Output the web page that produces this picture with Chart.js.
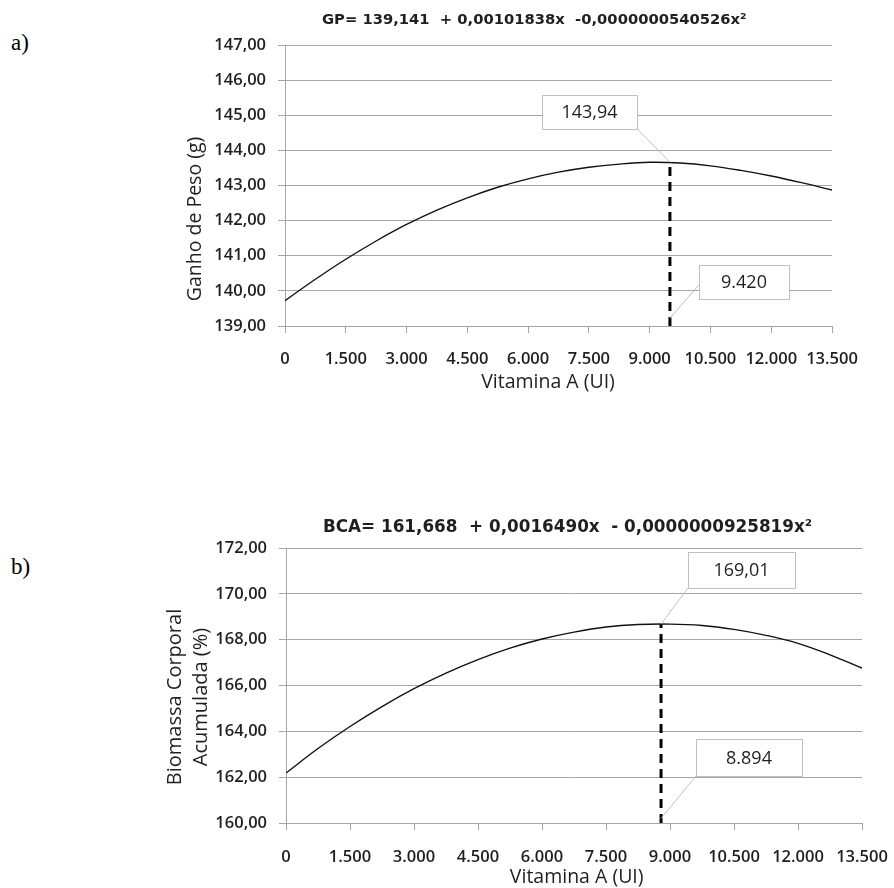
<!DOCTYPE html>
<html>
<head>
<meta charset="utf-8">
<script src="https://cdn.jsdelivr.net/npm/chart.js@4.4.1/dist/chart.umd.min.js"></script>
<style>
  html,body{margin:0;padding:0;background:#fff;}
  body{width:894px;height:888px;position:relative;overflow:hidden;}
  canvas{position:absolute;}
  #ca{left:150px;top:0px;}
  #cb{left:150px;top:500px;}
  .lbl{position:absolute;left:11px;font-family:'Liberation Serif','Times New Roman',serif;font-size:23px;color:#000;line-height:1;}
</style>
</head>
<body>
<div class="lbl" style="top:31px;">a)</div>
<div class="lbl" style="top:555px;">b)</div>
<canvas id="ca" width="744" height="400"></canvas>
<canvas id="cb" width="744" height="388"></canvas>
<script>
// ---------- data ----------
const xValues = [0, 750, 1500, 2250, 3000, 3750, 4500, 5250, 6000, 6750, 7500, 8250, 9000, 9750, 10500, 11250, 12000, 12750, 13500];
const xTickLabels = ['0', '1.500', '3.000', '4.500', '6.000', '7.500', '9.000', '10.500', '12.000', '13.500'];

// Chart a) Ganho de Peso
const gpValues = [139.72, 140.33, 140.90, 141.42, 141.89, 142.30, 142.65, 142.95, 143.19, 143.38, 143.52, 143.61, 143.66, 143.64, 143.56, 143.43, 143.27, 143.08, 142.87];
const gpYTickLabels = ['139,00', '140,00', '141,00', '142,00', '143,00', '144,00', '145,00', '146,00', '147,00'];
const gpOptimumX = 9500;
const gpOptimumY = 143.66;
const gpOptimumLabel = '143,94';
const gpDoseLabel = '9.420';
const gpTitle = 'GP= 139,141  + 0,00101838x  -0,0000000540526x\u00B2';

// Chart b) Biomassa Corporal Acumulada
const bcaValues = [162.18, 163.25, 164.21, 165.08, 165.86, 166.54, 167.13, 167.63, 168.03, 168.33, 168.55, 168.66, 168.68, 168.62, 168.45, 168.19, 167.84, 167.34, 166.76];
const bcaYTickLabels = ['160,00', '162,00', '164,00', '166,00', '168,00', '170,00', '172,00'];
const bcaOptimumX = 8790;
const bcaOptimumY = 168.68;
const bcaOptimumLabel = '169,01';
const bcaDoseLabel = '8.894';
const bcaTitle = 'BCA= 161,668  + 0,0016490x  - 0,0000000925819x\u00B2';

// ---------- styles ----------
const GRID = '#a6a6a6';
const TXT = '#1f1f1f';
const TICKFONT = {family: "'Open Sans', sans-serif", size: 16.5, weight: '600'};

const annoPlugin = {
  id: 'anno',
  afterDatasetsDraw(chart, args, opts) {
    const {ctx, scales: {x, y}} = chart;
    ctx.save();
    (opts.callouts || []).forEach(c => {
      const cx = x.getPixelForValue(c.boxX), cy = y.getPixelForValue(c.boxY);
      const bx = Math.round(cx - c.w / 2), by = Math.round(cy - c.h / 2);
      const sx = bx + c.fx * c.w, sy = by + c.fy * c.h;
      const ax = x.getPixelForValue(c.anchorX), ay = y.getPixelForValue(c.anchorY);
      ctx.strokeStyle = '#c0c0c0';
      ctx.lineWidth = 1;
      ctx.beginPath(); ctx.moveTo(sx, sy); ctx.lineTo(ax, ay); ctx.stroke();
      ctx.fillStyle = '#fff';
      ctx.fillRect(bx, by, c.w, c.h);
      ctx.strokeRect(bx + 0.5, by + 0.5, c.w, c.h);
      ctx.fillStyle = TXT;
      ctx.font = "18px 'Open Sans', sans-serif";
      ctx.textAlign = 'center';
      ctx.textBaseline = 'middle';
      ctx.fillText(c.text, bx + c.w / 2, by + c.h / 2 + 1);
    });
    ctx.restore();
  },
  afterDraw(chart, args, opts) {
    const {ctx, chartArea: ca} = chart;
    ctx.save();
    (opts.texts || []).forEach(t => {
      ctx.font = t.font;
      ctx.fillStyle = TXT;
      ctx.textAlign = t.align || 'center';
      ctx.textBaseline = 'middle';
      const px = ca.left + t.dx;
      const py = (t.refY === 'bottom' ? ca.bottom : ca.top) + t.dy;
      ctx.save();
      ctx.translate(px, py);
      if (t.rot) ctx.rotate(t.rot);
      ctx.fillText(t.text, 0, 0);
      ctx.restore();
    });
    ctx.restore();
  }
};

function makeChart(id, cfg) {
  return new Chart(document.getElementById(id), {
    type: 'line',
    data: {
      datasets: [
        {
          data: xValues.map((v, i) => ({x: v, y: cfg.ys[i]})),
          borderColor: '#111',
          borderWidth: 1.4,
          pointRadius: 0,
          tension: 0.4,
          fill: false
        },
        {
          data: [{x: cfg.optX, y: cfg.yMin}, {x: cfg.optX, y: cfg.optY}],
          borderColor: '#000',
          borderWidth: 3,
          borderDash: [9, 6],
          pointRadius: 0,
          tension: 0,
          fill: false
        }
      ]
    },
    options: {
      responsive: false,
      animation: false,
      devicePixelRatio: 1,
      layout: {padding: {top: cfg.padTop, right: cfg.padRight, left: 0, bottom: 0}},
      plugins: {
        legend: {display: false},
        tooltip: {enabled: false},
        anno: {callouts: cfg.callouts, texts: cfg.texts}
      },
      scales: {
        x: {
          type: 'linear',
          min: 0, max: 13500,
          afterFit: s => { s.height = cfg.xAxisH; s.paddingLeft = 0; s.paddingRight = 0; },
          afterBuildTicks: s => { s.ticks = xTickLabels.map((l, i) => ({value: i * 1500})); },
          ticks: {
            autoSkip: false, maxRotation: 0, padding: cfg.xPad,
            color: TXT, font: TICKFONT,
            callback: (v, i) => xTickLabels[i]
          },
          grid: {drawOnChartArea: false, drawTicks: true, tickLength: 7, color: GRID},
          border: {display: true, color: GRID, width: 1}
        },
        y: {
          type: 'linear',
          min: cfg.yMin, max: cfg.yMax,
          afterFit: s => { s.width = cfg.yAxisW; s.paddingTop = 0; s.paddingBottom = 0; },
          afterBuildTicks: s => { s.ticks = cfg.yLabels.map((l, i) => ({value: cfg.yMin + i * cfg.yStep})); },
          ticks: {
            padding: 12, color: TXT, font: TICKFONT,
            callback: (v, i) => cfg.yLabels[i]
          },
          grid: {color: GRID, tickLength: 7, drawTicks: true},
          border: {display: true, color: GRID, width: 1}
        }
      }
    },
    plugins: [annoPlugin]
  });
}

const axisFontA = "19.5px 'Open Sans', sans-serif";
const axisFontB = "20px 'Open Sans', sans-serif";

makeChart('ca', {
  ys: gpValues,
  yMin: 139, yMax: 147, yStep: 1, yLabels: gpYTickLabels,
  optX: gpOptimumX, optY: gpOptimumY,
  padTop: 45, padRight: 62, xAxisH: 74, yAxisW: 135, xPad: 16,
  callouts: [
    {text: gpOptimumLabel, boxX: 7515, boxY: 145.09, w: 95, h: 34, fx: 0.98, fy: 0.93, anchorX: gpOptimumX, anchorY: gpOptimumY},
    {text: gpDoseLabel, boxX: 11333, boxY: 140.25, w: 90, h: 34, fx: 0, fy: 0.58, anchorX: gpOptimumX, anchorY: 139.22}
  ],
  texts: [
    {text: gpTitle, font: "bold 14.75px 'DejaVu Sans', sans-serif", align: 'left', dx: 37, dy: -25},
    {text: 'Ganho de Peso (g)', font: axisFontA, dx: -90, dy: 174, rot: -Math.PI / 2},
    {text: 'Vitamina A (UI)', font: axisFontA, dx: 263, refY: 'bottom', dy: 56}
  ]
});

makeChart('cb', {
  ys: bcaValues,
  yMin: 160, yMax: 172, yStep: 2, yLabels: bcaYTickLabels,
  optX: bcaOptimumX, optY: bcaOptimumY,
  padTop: 48, padRight: 32, xAxisH: 65, yAxisW: 136, xPad: 17,
  callouts: [
    {text: bcaOptimumLabel, boxX: 10680, boxY: 171.03, w: 107, h: 36, fx: 0, fy: 1, anchorX: bcaOptimumX, anchorY: bcaOptimumY},
    {text: bcaDoseLabel, boxX: 10852, boxY: 162.84, w: 106, h: 37, fx: 0, fy: 1, anchorX: bcaOptimumX, anchorY: 160.2}
  ],
  texts: [
    {text: bcaTitle, font: "bold 16.8px 'DejaVu Sans', sans-serif", align: 'left', dx: 37, dy: -20},
    {text: 'Biomassa Corporal', font: axisFontB, dx: -111, dy: 149, rot: -Math.PI / 2},
    {text: 'Acumulada (%)', font: axisFontB, dx: -84.3, dy: 149, rot: -Math.PI / 2},
    {text: 'Vitamina A (UI)', font: axisFontA, dx: 290.7, refY: 'bottom', dy: 54}
  ]
});
</script>
</body>
</html>
